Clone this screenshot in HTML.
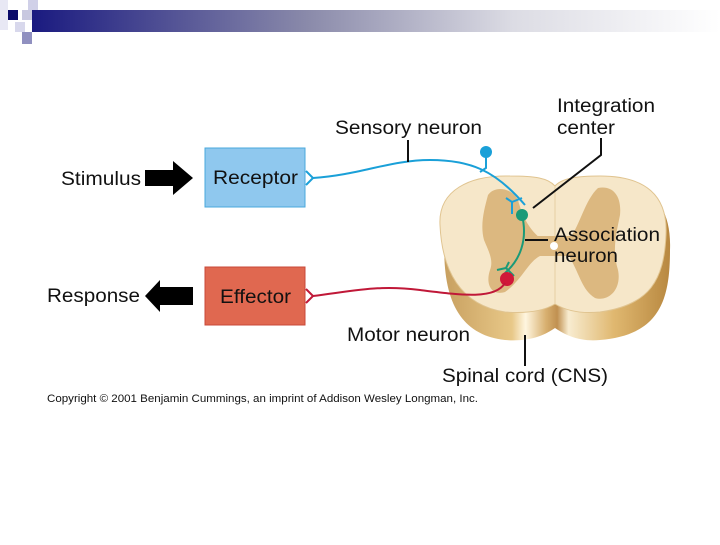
<!DOCTYPE html>
<html><head><style>
body{margin:0;width:720px;height:540px;background:#fff;overflow:hidden;font-family:"Liberation Sans",sans-serif}
</style></head><body>
<svg width="720" height="540" viewBox="0 0 720 540" xmlns="http://www.w3.org/2000/svg" font-family="Liberation Sans, sans-serif">
<defs>
<linearGradient id="bar" x1="0" x2="1"><stop offset="0" stop-color="#1a1a80"/><stop offset="0.4" stop-color="#8a8aaa"/><stop offset="0.7" stop-color="#dcdce4"/><stop offset="1" stop-color="#fff"/></linearGradient>
<linearGradient id="rim" x1="0" x2="1"><stop offset="0" stop-color="#c8a060"/><stop offset="0.3" stop-color="#e8c888"/><stop offset="0.36" stop-color="#fff6e0"/><stop offset="0.45" stop-color="#d8b070"/><stop offset="0.5" stop-color="#c09050"/><stop offset="0.55" stop-color="#f8ecd0"/><stop offset="0.75" stop-color="#e0b870"/><stop offset="1" stop-color="#b88840"/></linearGradient>
</defs>
<rect x="32" y="10" width="688" height="22" fill="url(#bar)"/>
<rect x="8" y="10" width="10" height="10" fill="#0a0a6a"/>
<rect x="22" y="10" width="10" height="10" fill="#c8c8e0"/>
<rect x="28" y="0" width="10" height="10" fill="#d0d0e8"/>
<rect x="15" y="22" width="10" height="10" fill="#d8d8ec"/>
<rect x="22" y="32" width="10" height="12" fill="#9090c0"/>
<rect x="0" y="0" width="8" height="30" fill="#e8e8f4"/>

<path d="M445,230 C440,190 475,178 515,180 C535,180 548,182 555,190 C562,182 578,180 600,180 C645,180 672,200 670,250 C670,300 660,335 600,340 C580,342 565,335 555,328 C545,335 530,342 505,340 C460,335 440,300 445,230Z" fill="url(#rim)"/>
<path d="M440,225 C438,190 470,175 510,176 C535,176 548,178 555,186 C562,178 578,176 600,176 C645,176 668,195 666,235 C664,280 650,305 600,312 C580,314 565,310 555,304 C545,310 530,314 505,312 C460,305 442,270 440,225Z" fill="#f6e7c9" stroke="#e0c490" stroke-width="1"/>
<line x1="555" y1="186" x2="555" y2="304" stroke="#e6cfa4" stroke-width="1"/>
<g fill="#dcb880">
<path d="M488,195 C495,185 512,188 518,200 C522,215 528,228 540,238 L540,256 C528,262 522,280 505,292 C492,296 485,285 490,270 C494,260 488,250 484,240 C480,225 484,210 488,195Z"/>
<path d="M598,188 C612,185 622,195 620,215 C616,235 612,250 618,270 C622,290 608,302 595,298 C582,290 580,275 570,258 L570,238 C580,225 585,200 598,188Z"/>
<rect x="535" y="236" width="40" height="20"/>
</g>
<circle cx="554" cy="246" r="4" fill="#fff"/>

<rect x="205" y="148" width="100" height="59" fill="#8fc8ee" stroke="#4aa8dc"/>
<text x="213" y="184" font-size="19" textLength="85" lengthAdjust="spacingAndGlyphs" fill="#111">Receptor</text>
<rect x="205" y="267" width="100" height="58" fill="#e06850" stroke="#c84838"/>
<text x="220" y="303" font-size="19" textLength="71" lengthAdjust="spacingAndGlyphs" fill="#111">Effector</text>
<polygon points="145,170 173,170 173,161 193,178 173,195 173,186 145,186" fill="#000"/>
<polygon points="145,296 160,280 160,287 193,287 193,305 160,305 160,312" fill="#000"/>
<text x="61" y="185" font-size="19" textLength="80" lengthAdjust="spacingAndGlyphs" fill="#111">Stimulus</text>
<text x="47" y="302" font-size="19" textLength="93" lengthAdjust="spacingAndGlyphs" fill="#111">Response</text>

<path d="M306,171 L313,178 L306,185" fill="none" stroke="#1aa0d8" stroke-width="2"/>
<path d="M313,178 C360,175 390,160 430,160 C470,160 495,170 525,205" fill="none" stroke="#1aa0d8" stroke-width="2"/>
<path d="M486,152 L486,168 L480,172" fill="none" stroke="#1aa0d8" stroke-width="2"/>
<circle cx="486" cy="152" r="6" fill="#1aa0d8"/>
<path d="M512,214 L512,202 L522,198 M512,202 L506,198" fill="none" stroke="#1aa0d8" stroke-width="2"/>
<circle cx="522" cy="215" r="6" fill="#1a9a78"/>
<path d="M522,215 C528,240 520,260 505,273 M497,270 L506,268 L514,276 M506,268 L509,262" fill="none" stroke="#1a9a78" stroke-width="2"/>
<circle cx="507" cy="279" r="7" fill="#d01838"/>
<path d="M306,289 L313,296 L306,303" fill="none" stroke="#c01838" stroke-width="2"/>
<path d="M313,296 C360,290 380,285 420,290 C460,295 495,300 505,283" fill="none" stroke="#c01838" stroke-width="2"/>

<g stroke="#111" stroke-width="2" fill="none">
<line x1="408" y1="140" x2="408" y2="162"/>
<path d="M601,138 L601,155 L533,208"/>
<line x1="525" y1="240" x2="548" y2="240"/>
<line x1="525" y1="335" x2="525" y2="366"/>
</g>
<g font-size="19" fill="#111" lengthAdjust="spacingAndGlyphs">
<text x="335" y="134" textLength="147" lengthAdjust="spacingAndGlyphs">Sensory neuron</text>
<text x="557" y="112" textLength="98" lengthAdjust="spacingAndGlyphs">Integration</text>
<text x="557" y="134" textLength="58" lengthAdjust="spacingAndGlyphs">center</text>
<text x="554" y="241" textLength="106" lengthAdjust="spacingAndGlyphs">Association</text>
<text x="554" y="262" textLength="64" lengthAdjust="spacingAndGlyphs">neuron</text>
<text x="347" y="341" textLength="123" lengthAdjust="spacingAndGlyphs">Motor neuron</text>
<text x="442" y="382" textLength="166" lengthAdjust="spacingAndGlyphs">Spinal cord (CNS)</text>
</g>
<text x="47" y="402" font-size="11" textLength="431" lengthAdjust="spacingAndGlyphs" fill="#111">Copyright © 2001 Benjamin Cummings, an imprint of Addison Wesley Longman, Inc.</text>
</svg>
</body></html>
